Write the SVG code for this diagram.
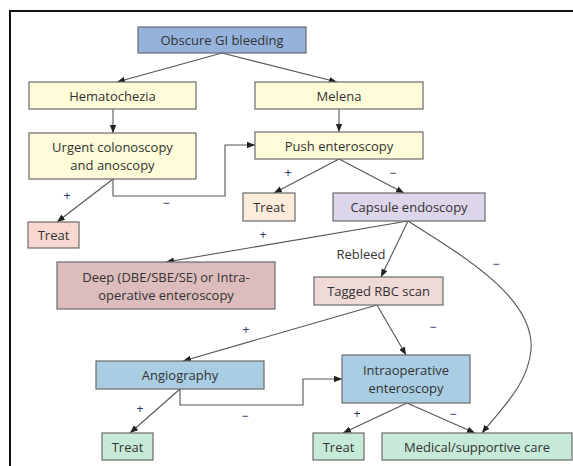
<svg xmlns="http://www.w3.org/2000/svg" width="573" height="466" viewBox="0 0 573 466">
<defs>
<marker id="ah" viewBox="0 0 10 10" refX="10" refY="5" markerWidth="8" markerHeight="8" markerUnits="userSpaceOnUse" orient="auto">
<path d="M0,1 L10,5 L0,9 z" fill="#222"/>
</marker>
<style>
.box{stroke:#6b6b6b;stroke-width:1.2}
.t{font-family:"Open Sans","Liberation Sans",sans-serif;font-size:13px;fill:#333;text-anchor:middle;dominant-baseline:central}
.lb{font-family:"Liberation Sans",sans-serif;font-size:12px;fill:#2b3566;text-anchor:middle;dominant-baseline:central}
.c{fill:none;stroke:#555;stroke-width:1.1;marker-end:url(#ah)}
.yl{fill:#fdfbd8}.gr{fill:#c7e9d8}.bl{fill:#a9cde3}
</style>
</defs>
<rect width="573" height="466" fill="#fff"/>
<path d="M10,466 V11 H573" fill="none" stroke="#111" stroke-width="2"/>

<g id="connectors">
<path class="c" d="M222,53 L117,82"/>
<path class="c" d="M222,53 L337,82"/>
<path class="c" d="M113,109 V133"/>
<path class="c" d="M339,109 V132"/>
<path class="c" d="M113,179 V196 H225 V145 H255"/>
<path class="c" d="M113,179 L57,222"/>
<path class="c" d="M339,159 L274,193"/>
<path class="c" d="M339,159 L404,193"/>
<path class="c" d="M408,221 L166,262"/>
<path class="c" d="M408,221 L381,277"/>
<path class="c" d="M408,221 C470,260 535,300 531,350 C528,385 500,410 482,433"/>
<path class="c" d="M377,305 L183,361"/>
<path class="c" d="M377,305 L406,355"/>
<path class="c" d="M180,389 L130,433"/>
<path class="c" d="M180,389 V405 H303 V379 H342"/>
<path class="c" d="M407,403 L343,433"/>
<path class="c" d="M407,403 L475,433"/>
</g>

<g id="labels">
<text class="lb" x="67" y="196">+</text>
<text class="lb" x="166" y="203">−</text>
<text class="lb" x="288" y="173">+</text>
<text class="lb" x="393" y="173">−</text>
<text class="lb" x="263" y="235">+</text>
<text class="t" x="361" y="254">Rebleed</text>
<text class="lb" x="496" y="264">−</text>
<text class="lb" x="246" y="330">+</text>
<text class="lb" x="433" y="327">−</text>
<text class="lb" x="140" y="409">+</text>
<text class="lb" x="245" y="416">−</text>
<text class="lb" x="357" y="414">+</text>
<text class="lb" x="453" y="414">−</text>
</g>

<g id="obscure"><rect class="box" x="138" y="27" width="168" height="26" fill="#95b2dc"/><text class="t" x="222" y="40">Obscure GI bleeding</text></g>
<g id="hematochezia"><rect class="box yl" x="29" y="82" width="167" height="27"/><text class="t" x="112.5" y="95.5">Hematochezia</text></g>
<g id="melena"><rect class="box yl" x="255" y="82" width="168" height="27"/><text class="t" x="339" y="95.5">Melena</text></g>
<g id="urgent"><rect class="box yl" x="29" y="133" width="167" height="46"/><text class="t" x="112.5" y="147">Urgent colonoscopy</text><text class="t" x="112.5" y="165">and anoscopy</text></g>
<g id="push"><rect class="box yl" x="255" y="132" width="168" height="27"/><text class="t" x="339" y="145.5">Push enteroscopy</text></g>
<g id="treat1"><rect class="box" x="28" y="222" width="51" height="26" fill="#f8d7d1"/><text class="t" x="53.5" y="235">Treat</text></g>
<g id="treat2"><rect class="box" x="243" y="193" width="52" height="28" fill="#fdecdc"/><text class="t" x="269" y="207">Treat</text></g>
<g id="capsule"><rect class="box" x="333" y="193" width="152" height="28" fill="#ddd5e9"/><text class="t" x="409" y="207">Capsule endoscopy</text></g>
<g id="deep"><rect class="box" x="57" y="262" width="218" height="47" fill="#dcbcbd"/><text class="t" x="166" y="276.5">Deep (DBE/SBE/SE) or Intra-</text><text class="t" x="166" y="294.5">operative enteroscopy</text></g>
<g id="tagged"><rect class="box" x="314" y="277" width="129" height="28" fill="#efdad8"/><text class="t" x="378.5" y="291">Tagged RBC scan</text></g>
<g id="angio"><rect class="box bl" x="96" y="361" width="168" height="28"/><text class="t" x="180" y="375">Angiography</text></g>
<g id="intraop"><rect class="box bl" x="342" y="355" width="128" height="48"/><text class="t" x="406" y="370">Intraoperative</text><text class="t" x="406" y="388">enteroscopy</text></g>
<g id="treat3"><rect class="box gr" x="102" y="433" width="51" height="27"/><text class="t" x="127.5" y="446.5">Treat</text></g>
<g id="treat4"><rect class="box gr" x="313" y="433" width="51" height="27"/><text class="t" x="338.5" y="446.5">Treat</text></g>
<g id="medical"><rect class="box gr" x="382" y="433" width="190" height="27"/><text class="t" x="477" y="446.5">Medical/supportive care</text></g>
</svg>
